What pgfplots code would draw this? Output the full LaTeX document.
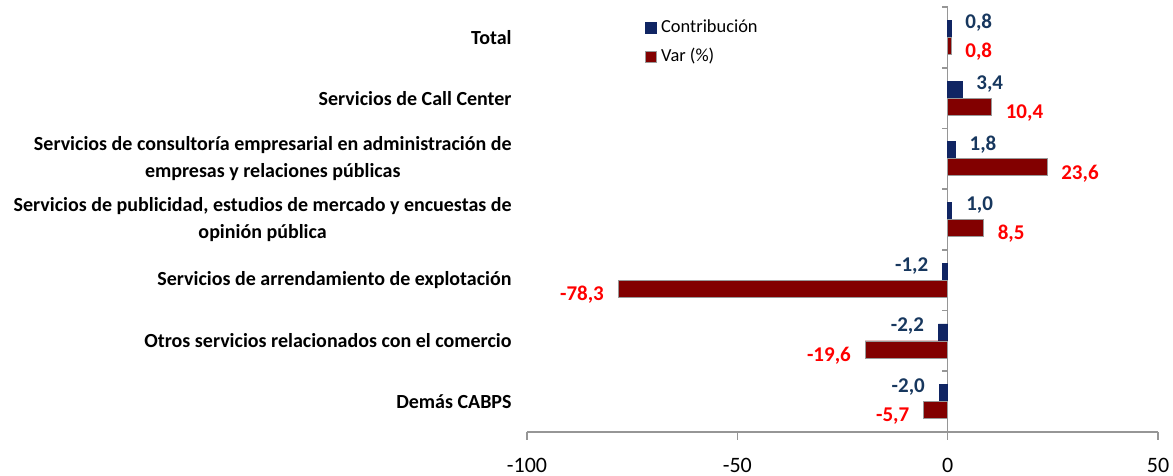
\documentclass[border=0pt]{standalone}
\usepackage{pgfplots}
\pgfplotsset{compat=1.18}
\usepackage{fontspec}
\setmainfont{Carlito}
\definecolor{navybar}{RGB}{16,37,99}
\definecolor{navytxt}{RGB}{23,55,94}
\definecolor{redbar}{RGB}{130,0,0}
\definecolor{redmid}{RGB}{165,20,20}
\definecolor{axisgray}{RGB}{150,150,150}
\begin{document}
\begin{tikzpicture}
\useasboundingbox (-263.5pt,-22pt) rectangle (323pt,216pt);
\begin{axis}[
  at={(0,0)}, anchor=south west, scale only axis,
  width=315.5pt, height=212.5pt,
  xbar, bar width=0.28,
  xmin=-100, xmax=50, ymin=-0.5, ymax=6.5,
  xtick={-100,-50,0,50},
  ytick={0,...,6},
  yticklabels={Demás CABPS,
    Otros servicios relacionados con el comercio,
    Servicios de arrendamiento de explotación,
    {Servicios de publicidad, estudios de mercado y encuestas de\\opinión pública},
    {Servicios de consultoría empresarial en administración de\\empresas y relaciones públicas},
    Servicios de Call Center,
    Total},
  axis x line*=bottom, axis y line*=left,
  y axis line style={draw=none},
  x axis line style={draw=axisgray, line width=0.8pt},
  ytick style={draw=none},
  xtick style={draw=axisgray, line width=0.8pt},
  tick align=outside, major tick length=4pt,
  yticklabel style={font=\bfseries\fontsize{10}{13.5}\selectfont, align=center, inner xsep=0pt, xshift=-3.5pt},
  xticklabel style={font=\fontsize{11}{12}\selectfont, yshift=-5.5pt},
  /pgf/number format/assume math mode=true,
  point meta=x,
  nodes near coords={\pgfmathprintnumber[fixed,fixed zerofill,precision=1,use comma]{\pgfplotspointmeta}},
  every node near coord/.append style={font=\bfseries\fontsize{10.5}{12}\selectfont, inner xsep=7pt},
  clip=false,
  legend style={at={(0.187,0.99)}, anchor=north west, draw=none, fill=none,
    font=\fontsize{9.2}{11}\selectfont, row sep=2.5pt, inner xsep=0pt},
  legend cell align=left,
  legend image code/.code={\fill[#1] (0pt,-2.8pt) rectangle (5.5pt,2.5pt);},
]
\draw[axisgray, line width=0.8pt] ([yshift=-4pt]axis cs:0,-0.5) -- (axis cs:0,6.5);
\pgfplotsinvokeforeach{-0.5,0.5,1.5,2.5,3.5,4.5,5.5,6.5}{
  \draw[axisgray, line width=0.8pt] (axis cs:0,#1) -- ([xshift=-3pt]axis cs:0,#1);
}
\addplot[fill=navybar, draw=navybar, bar shift=0.14,
  every node near coord/.append style={text=navytxt, yshift=3pt}]
  coordinates {(0.8,6) (3.4,5) (1.8,4) (1.0,3) (-1.2,2) (-2.2,1) (-2.0,0)};
\addlegendentry{Contribución}
\addplot[fill=redbar, top color=redbar, middle color=redmid, bottom color=redbar, draw=gray!80, bar shift=-0.14,
  every node near coord/.append style={text=red, yshift=-3pt}]
  coordinates {(0.8,6) (10.4,5) (23.6,4) (8.5,3) (-78.3,2) (-19.6,1) (-5.7,0)};
\addlegendentry{Var (\%)}
\end{axis}
\end{tikzpicture}
\end{document}
